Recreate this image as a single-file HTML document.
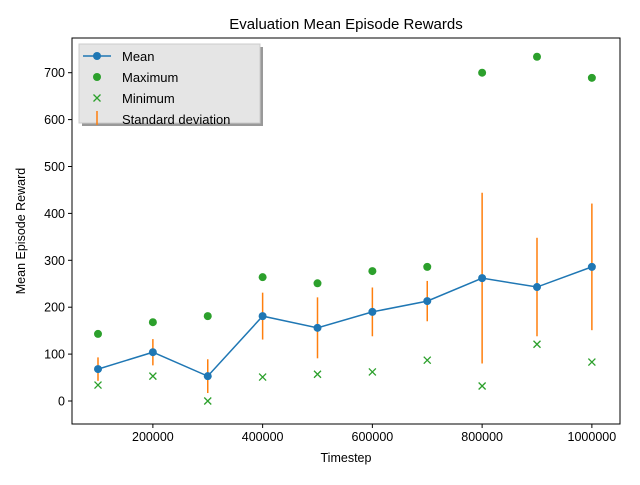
<!DOCTYPE html>
<html><head><meta charset="utf-8"><style>body{margin:0;background:#fff}svg{font-family:"Liberation Sans","DejaVu Sans",sans-serif}</style></head>
<body>
<svg id="c" width="640" height="480"></svg>
<script>
const timesteps=[100000,200000,300000,400000,500000,600000,700000,800000,900000,1000000];
const meanVals=[68,104,53,181,156,190,213,262,243,286];
const maxVals=[143,168,181,264,251,277,286,700,734,689];
const minVals=[34,53,0,51,57,62,87,32,121,83];
const stdVals=[25,28,36,50,65,52,43,182,105,135];
const xTicks=[200000,400000,600000,800000,1000000];
const yTicks=[0,100,200,300,400,500,600,700];
const L=72,R=620,T=38,B=424;
const x=v=>98+(v-100000)*(439/800000);
const y=v=>401-v*0.469;
const s=document.getElementById('c');const NS='http://www.w3.org/2000/svg';
function el(t,a,txt){const e=document.createElementNS(NS,t);for(const k in a)e.setAttribute(k,a[k]);if(txt!==undefined)e.textContent=txt;s.appendChild(e);return e;}
let e;
e=el('rect',{x:L,y:T,width:R-L,height:B-T,fill:'#fff',stroke:'#000','stroke-width':1});

xTicks.forEach(v=>{el('line',{x1:x(v),x2:x(v),y1:B,y2:B+4,stroke:'#000'});
e=el('text',{x:x(v),y:B+17,'font-size':12.5,'text-anchor':'middle'},String(v));
});
yTicks.forEach(v=>{el('line',{x1:L-4,x2:L,y1:y(v),y2:y(v),stroke:'#000'});
e=el('text',{x:L-7,y:y(v)+4.5,'font-size':12.5,'text-anchor':'end'},String(v));
});
e=el('text',{x:346,y:462,'font-size':12.5,'text-anchor':'middle'},'Timestep');

e=el('text',{x:25,y:231,'font-size':12.5,'text-anchor':'middle',transform:'rotate(-90 25 231)'},'Mean Episode Reward');

e=el('text',{x:346,y:29,'font-size':15,'text-anchor':'middle'},'Evaluation Mean Episode Rewards');

timesteps.forEach((t,i)=>{e=el('line',{x1:x(t),x2:x(t),y1:y(meanVals[i]-stdVals[i]),y2:y(meanVals[i]+stdVals[i]),stroke:'#ff7f0e','stroke-width':1.5});
});
e=el('polyline',{points:timesteps.map((t,i)=>x(t)+','+y(meanVals[i])).join(' '),fill:'none',stroke:'#1f77b4','stroke-width':1.5});

timesteps.forEach((t,i)=>{e=el('circle',{cx:x(t),cy:y(meanVals[i]),r:4,fill:'#1f77b4'});

e=el('circle',{cx:x(t),cy:y(maxVals[i]),r:4,fill:'#2ca02c'});

const mx=x(t),my=y(minVals[i]);
e=el('path',{d:`M${mx-3.5},${my-3.5}L${mx+3.5},${my+3.5}M${mx-3.5},${my+3.5}L${mx+3.5},${my-3.5}`,stroke:'#2ca02c','stroke-width':1.3});
});
el('rect',{x:82,y:47,width:181,height:79,fill:'#999'});
e=el('rect',{x:79,y:44,width:181,height:79,fill:'#e5e5e5',stroke:'#ccc'});

el('line',{x1:83,x2:111,y1:56,y2:56,stroke:'#1f77b4','stroke-width':1.5});
el('circle',{cx:97,cy:56,r:4,fill:'#1f77b4'});
el('circle',{cx:97,cy:77,r:4,fill:'#2ca02c'});
el('path',{d:'M93.5,94.5L100.5,101.5M93.5,101.5L100.5,94.5',stroke:'#2ca02c','stroke-width':1.3});
el('line',{x1:97,x2:97,y1:111,y2:125,stroke:'#ff7f0e','stroke-width':1.5});
['Mean','Maximum','Minimum','Standard deviation'].forEach((t,i)=>{e=el('text',{x:122,y:61+i*21,'font-size':13},t);
});
</script>
</body></html>
